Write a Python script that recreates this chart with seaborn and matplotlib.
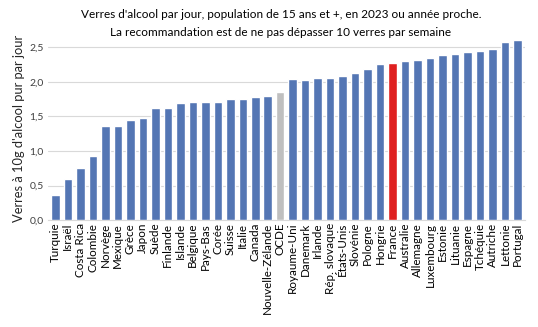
import matplotlib
matplotlib.use("Agg")
import matplotlib.pyplot as plt
import seaborn as sns
import pandas as pd
from matplotlib.ticker import FuncFormatter

countries = ["Turquie", "Israël", "Costa Rica", "Colombie", "Norvège", "Mexique", "Grèce",
             "Japon", "Suède", "Finlande", "Islande", "Belgique", "Pays-Bas", "Corée",
             "Suisse", "Italie", "Canada", "Nouvelle-Zélande", "OCDE", "Royaume-Uni",
             "Danemark", "Irlande", "Rép. slovaque", "États-Unis", "Slovénie", "Pologne",
             "Hongrie", "France", "Australie", "Allemagne", "Luxembourg", "Estonie",
             "Lituanie", "Espagne", "Tchéquie", "Autriche", "Lettonie", "Portugal"]
values = [0.37, 0.59, 0.75, 0.92, 1.36, 1.36, 1.45, 1.47, 1.62, 1.62, 1.69, 1.71, 1.71,
          1.71, 1.75, 1.75, 1.78, 1.80, 1.86, 2.04, 2.03, 2.06, 2.06, 2.08, 2.13, 2.19,
          2.26, 2.28, 2.30, 2.32, 2.34, 2.39, 2.41, 2.43, 2.45, 2.47, 2.57, 2.61]
yticks = [0.0, 0.5, 1.0, 1.5, 2.0, 2.5]

df = pd.DataFrame({"pays": countries, "val": values})
df["grp"] = ["OCDE" if c == "OCDE" else ("France" if c == "France" else "autre") for c in countries]
palette = {"autre": "#4472C4", "OCDE": "#BFBFBF", "France": "#FF0000"}

sns.set_style("white")
plt.rcParams["font.family"] = ["Lato", "DejaVu Sans"]

fig = plt.figure(figsize=(5.38, 3.27), dpi=100)
ax = fig.add_axes([0.089, 0.327, 0.887, 0.56])
sns.barplot(data=df, x="pays", y="val", hue="grp", palette=palette, dodge=False,
            width=0.68, legend=False, ax=ax, zorder=3)
ax.set_ylim(0, 2.65)
ax.set_xlim(-0.6, len(countries) - 0.4)
ax.set_yticks(yticks)
ax.yaxis.set_major_formatter(FuncFormatter(lambda v, p: f"{v:.1f}".replace(".", ",")))
ax.grid(axis="y", color="#D9D9D9", linewidth=0.8, zorder=0)
for s in ["top", "right", "left"]:
    ax.spines[s].set_visible(False)
ax.spines["bottom"].set_color("#D9D9D9")
ax.tick_params(axis="x", rotation=90, labelsize=8.4, length=0, pad=2, colors="#404040")
ax.tick_params(axis="y", labelsize=7.5, length=0, pad=3, colors="#404040")
for lab in ax.get_xticklabels():
    lab.set_color("black")
ax.set_xlabel("")
ax.set_ylabel("Verres à 10g d'alcool pur par jour", fontsize=9.3, color="#262626", labelpad=3)
fig.text(0.522, 0.955, "Verres d'alcool par jour, population de 15 ans et +, en 2023 ou année proche.",
         ha="center", va="center", fontsize=8.5, color="black")
fig.text(0.522, 0.90, "La recommandation est de ne pas dépasser 10 verres par semaine",
         ha="center", va="center", fontsize=8.5, color="black")
fig.savefig("out.png", dpi=100)
